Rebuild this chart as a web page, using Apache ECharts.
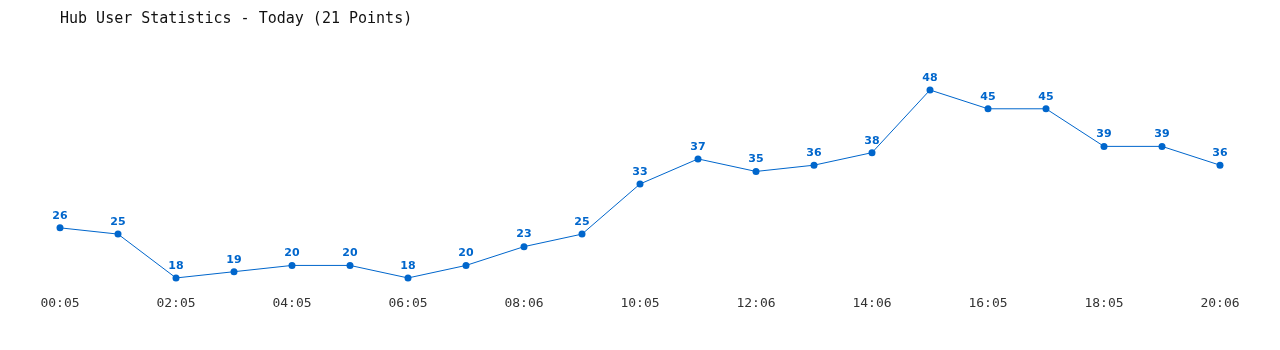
<!DOCTYPE html>
<html><head><meta charset="utf-8">
<script src="https://cdn.jsdelivr.net/npm/echarts@6/dist/echarts.min.js"></script>
<style>html,body{margin:0;padding:0;background:#fff}#c{width:1280px;height:350px}</style>
</head><body><div id="c"></div>
<script>
const categories = ["00:05","01:05","02:05","03:05","04:05","05:05","06:05","07:05","08:06","09:05","10:05","11:05","12:06","13:05","14:06","15:05","16:05","17:05","18:05","19:05","20:06"];
const users = [26,25,18,19,20,20,18,20,23,25,33,37,35,36,38,48,45,45,39,39,36];
const titleText = "Hub User Statistics - Today (21 Points)";

const chart = echarts.init(document.getElementById('c'));
chart.setOption({
  animation: false,
  backgroundColor: '#fff',
  title: {
    text: titleText, left: 55, top: 7,
    textStyle: { fontFamily: 'DejaVu Sans Mono', fontSize: 15, fontWeight: 'normal', color: '#111' }
  },
  grid: { left: 60, right: 60, top: 52.4, bottom: 59.5 },
  xAxis: {
    type: 'category', data: categories, boundaryGap: false,
    axisLine: { show: false }, axisTick: { show: false }, splitLine: { show: false },
    axisLabel: { interval: 1, margin: 7, fontFamily: 'DejaVu Sans Mono', fontSize: 13, color: '#333' }
  },
  yAxis: {
    type: 'value', min: 16, max: 54, show: false, splitLine: { show: false }
  },
  series: [{
    type: 'line', data: users,
    symbol: 'circle', symbolSize: 7,
    lineStyle: { color: '#0066cc', width: 1 },
    itemStyle: { color: '#0066cc' },
    label: { show: true, position: 'top', distance: 3, color: '#0066cc', fontFamily: 'DejaVu Sans', fontWeight: 'bold', fontSize: 11 }
  }]
});
</script></body></html>
